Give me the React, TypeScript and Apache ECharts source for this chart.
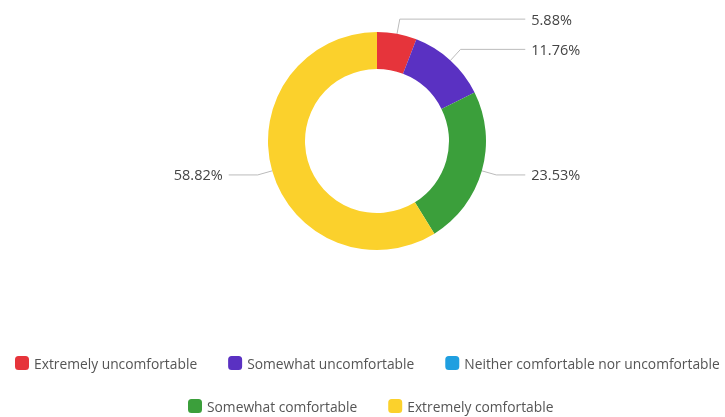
import React, { useEffect, useRef } from "react";
import * as echarts from "echarts";

const categories = [
  "Extremely uncomfortable",
  "Somewhat uncomfortable",
  "Neither comfortable nor uncomfortable",
  "Somewhat comfortable",
  "Extremely comfortable",
];
const counts = [1, 2, 0, 4, 10];
const colors = ["#e6343b", "#5a31c2", "#1f9fe0", "#3b9f3b", "#fbd12c"];

export default function App() {
  const ref = useRef<HTMLDivElement>(null);
  useEffect(() => {
    if (!ref.current) return;
    const chart = echarts.init(ref.current, null, { renderer: "svg" });
    const total = counts.reduce((a, b) => a + b, 0);
    const legendText = { color: "#555", fontSize: 13.8, fontFamily: "Open Sans" };
    chart.setOption({
      animation: false,
      color: colors,
      legend: [
        {
          data: categories.slice(0, 3),
          left: 15,
          top: 356,
          padding: 0,
          itemWidth: 14,
          itemHeight: 14,
          itemGap: 31,
          icon: "roundRect",
          textStyle: legendText,
          selectedMode: false,
        },
        {
          data: categories.slice(3),
          left: 188,
          top: 399,
          padding: 0,
          itemWidth: 14,
          itemHeight: 14,
          itemGap: 31,
          icon: "roundRect",
          textStyle: legendText,
          selectedMode: false,
        },
      ],
      series: [
        {
          type: "pie",
          center: [377, 141],
          radius: [72, 109],
          startAngle: 90,
          clockwise: true,
          label: {
            formatter: (p: any) => ((p.value / total) * 100).toFixed(2) + "%",
            color: "#444",
            fontSize: 14.5,
            fontFamily: "Open Sans",
            alignTo: "labelLine",
            distanceToLabelLine: 6,
          },
          labelLine: {
            length: 15,
            length2: 29,
            lineStyle: { color: "#bbb", width: 1 },
          },
          data: categories.map((name, i) => ({
            name,
            value: counts[i],
            ...(counts[i] === 0
              ? { label: { show: false }, labelLine: { show: false } }
              : {}),
          })),
        },
      ],
    });
    return () => chart.dispose();
  }, []);
  return (
    <div
      ref={ref}
      style={{ position: "fixed", left: 0, top: 0, width: 725, height: 417 }}
    />
  );
}
